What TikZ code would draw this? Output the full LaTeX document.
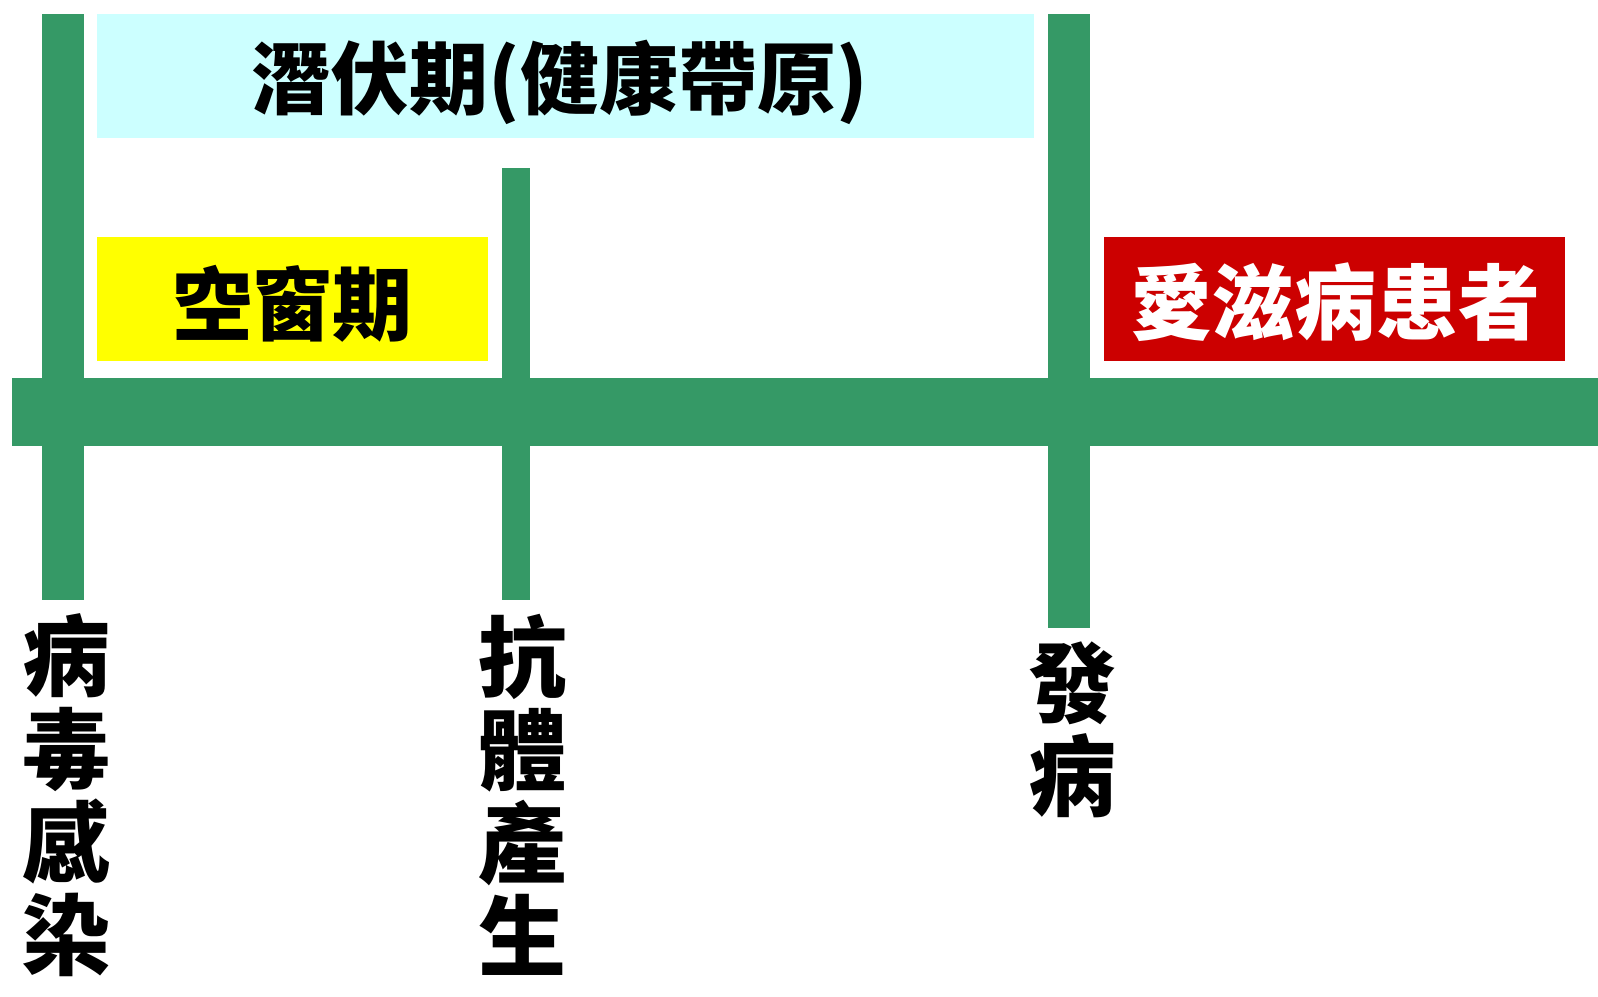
\documentclass[tikz,border=0pt]{standalone}
\usepackage{fontspec}
\newfontfamily\cjk{Noto Sans CJK TC}[UprightFont={* Black}]
\definecolor{barg}{RGB}{53,153,102}
\definecolor{lcyan}{RGB}{204,255,255}
\definecolor{lyel}{RGB}{255,255,0}
\definecolor{dred}{RGB}{204,0,0}
\begin{document}
\begin{tikzpicture}[x=1pt,y=-1pt]
\tikzset{
  bar/.style={fill=barg},
  phase/.style={inner sep=0pt,outer sep=0pt,anchor=center},
  vlabel/.style={inner sep=0pt,align=center,font=\cjk\fontsize{88}{93}\selectfont}
}
\useasboundingbox[fill=white] (0,0) rectangle (1598,996);
% bars
\fill[bar] (12,378) rectangle (1598,446);
\fill[bar] (42,14) rectangle (84,600);
\fill[bar] (502,168) rectangle (530,600);
\fill[bar] (1048,14) rectangle (1090,628);
% phase boxes
\node[phase,fill=lcyan,minimum width=937pt,minimum height=124pt] (latent) at (565.5,76) {};
\node[font=\cjk\fontsize{79}{86}\selectfont,inner sep=0pt] (latenttxt) at (560,82) {潛伏期(健康帶原)};
\node[phase,fill=lyel,minimum width=391pt,minimum height=124pt] (window) at (292.5,299) {};
\node[font=\cjk\fontsize{80}{88}\selectfont,inner sep=0pt] (windowtxt) at (292.5,304) {空窗期};
\node[phase,fill=dred,minimum width=461pt,minimum height=124pt] (aids) at (1334.5,299) {};
\node[font=\cjk\fontsize{82}{88}\selectfont,text=white,inner sep=0pt] (aidstxt) at (1335,302) {愛滋病患者};
% vertical labels
\node[vlabel] (infect) at (66,795) {病\\毒\\感\\染};
\node[vlabel] (antib) at (522,795) {抗\\體\\產\\生};
\node[vlabel] (onset) at (1072,730) {發\\病};
\end{tikzpicture}
\end{document}
